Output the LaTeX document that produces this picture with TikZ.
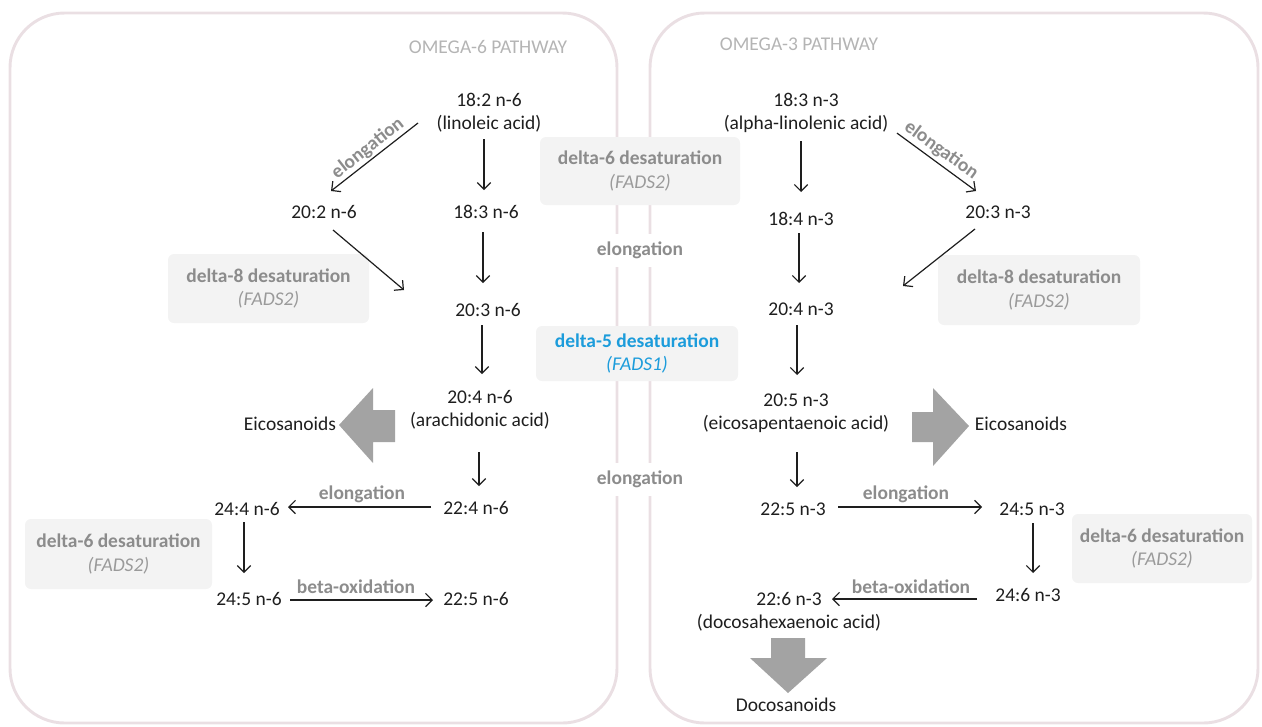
\documentclass[tikz,border=0pt]{standalone}
\usepackage{fontspec}
\setmainfont{Carlito}
\usetikzlibrary{arrows.meta,calc}
\definecolor{txt}{HTML}{1E1E1E}
\definecolor{labc}{HTML}{8C8C8C}
\definecolor{fads}{HTML}{9A9A9A}
\definecolor{boxfill}{HTML}{F3F3F3}
\definecolor{panelc}{HTML}{EADFE3}
\definecolor{bluefive}{HTML}{1C9CDB}
\definecolor{bigarrow}{HTML}{A3A3A3}
\definecolor{titlec}{HTML}{B4B4B4}
\begin{document}
\begin{tikzpicture}[x=0.75pt,y=-0.75pt,
  every node/.style={font=\fontsize{14.6}{17.6}\selectfont, text=txt, inner sep=0pt, align=center},
  lab/.style={text=labc, font=\fontsize{14.6}{17.6}\selectfont\bfseries},
  enz/.style={fill=boxfill, rounded corners=4.5pt, text=labc, font=\fontsize{14.6}{17.6}\selectfont\bfseries},
  conn/.style={draw=txt, line width=0.9pt, -{Straight Barb[length=5pt,width=10pt]}},
  panelbox/.style={draw=panelc, line width=2.2pt, rounded corners=41pt},
  big/.style={fill=bigarrow, draw=none},
  ttl/.style={text=titlec}]
\useasboundingbox (0,0) rectangle (1262,726);

% panels
\draw[panelbox] (10,13) rectangle (617,723);
\draw[panelbox] (650,13) rectangle (1258,723);

% enzyme boxes
\node[enz, minimum width=150.75pt, minimum height=51.75pt] (d8L) at (268.5,288.5) {delta-8 desaturation\\{\normalfont\itshape\color{fads}(FADS2)}};
\node[enz, minimum width=140.25pt, minimum height=52.5pt] (d6L) at (118.5,554) {delta-6 desaturation\\{\normalfont\itshape\color{fads}(FADS2)}};
\node[enz, minimum width=150pt, minimum height=51pt] (d6M) at (640,171) {delta-6 desaturation\\{\normalfont\itshape\color{fads}(FADS2)}};
\node[enz, text=bluefive, minimum width=151.5pt, minimum height=41.25pt] (d5M) at (637,353.5) {delta-5 desaturation\\{\normalfont\itshape(FADS1)}};
\node[enz, minimum width=151.5pt, minimum height=52.5pt] (d8R) at (1039,290) {delta-8 desaturation\\{\normalfont\itshape\color{fads}(FADS2)}};
\node[enz, minimum width=135pt, minimum height=51.75pt] (d6R) at (1162,548.5) {delta-6 desaturation\\{\normalfont\itshape\color{fads}(FADS2)}};
\node[lab, fill=white, inner xsep=2pt, inner ysep=6pt] (eM1) at (640,250) {elongation};
\node[lab, fill=white, inner xsep=2pt, inner ysep=6pt] (eM2) at (640,479) {elongation};

% titles
\node[ttl] (t6) at (488,47) {OMEGA-6 PATHWAY};
\node[ttl] (t3) at (799,44) {OMEGA-3 PATHWAY};

% omega-6 nodes
\node (l1) at (489,112.6) {18:2 n-6\\(linoleic acid)};
\node (l2) at (324,212) {20:2 n-6};
\node (l3) at (486,212) {18:3 n-6};
\node (l4) at (488,310) {20:3 n-6};
\node (l5) at (480,409.6) {20:4 n-6\\(arachidonic acid)};
\node (eL) at (290,424) {Eicosanoids};
\node (l6) at (476,508) {22:4 n-6};
\node (l7) at (247,509) {24:4 n-6};
\node (l8) at (249,599) {24:5 n-6};
\node (l9) at (476,599) {22:5 n-6};

% omega-3 nodes
\node (r1) at (806,113.1) {18:3 n-3\\(alpha-linolenic acid)};
\node (r2) at (801,219) {18:4 n-3};
\node (r3) at (998,212) {20:3 n-3};
\node (r4) at (801,309) {20:4 n-3};
\node (r5) at (796,413) {20:5 n-3\\(eicosapentaenoic acid)};
\node (eR) at (1021,424) {Eicosanoids};
\node (r6) at (793,509) {22:5 n-3};
\node (r7) at (1032,509) {24:5 n-3};
\node (r8) at (1028,595) {24:6 n-3};
\node (r9) at (789,611.6) {22:6 n-3\\(docosahexaenoic acid)};
\node (dR) at (786,705) {Docosanoids};

% big arrows
\fill[big] (339,425) -- (373,388) -- (373,410) -- (395,410) -- (395,442) -- (373,442) -- (373,463) -- cycle;
\fill[big] (969,426) -- (933,388) -- (933,412) -- (912,412) -- (912,442) -- (933,442) -- (933,466) -- cycle;
\fill[big] (788,693) -- (750,658) -- (771,658) -- (771,638) -- (805,638) -- (805,658) -- (827,658) -- cycle;

% omega-6 connectors
\draw[conn] ($(l3)+(-2,-73)$) -- ($(l3)+(-2,-22)$);
\draw[conn] ($(l1)+(-71,10.4)$) -- ($(l2)+(7,-21)$);
\draw[conn] ($(l2)+(9,18)$) -- ($(l4)+(-84,-20)$);
\draw[conn] ($(l3)+(-3,20)$) -- ($(l4)+(-5,-27)$);
\draw[conn] ($(l4)+(-6,15)$) -- ($(l5)+(2,-35.6)$);
\draw[conn] ($(l5)+(-1,42.4)$) -- ($(l6)+(3,-22)$);
\draw[conn] ($(l6)+(-45,-1)$) -- ($(l7)+(41,-2)$);
\draw[conn] ($(l7)+(-3,13)$) -- ($(l8)+(-5,-26)$);
\draw[conn] ($(l8)+(41,1)$) -- ($(l9)+(-43,1)$);

% omega-3 connectors
\draw[conn] ($(r2)+(0,-78)$) -- ($(r2)+(0,-27)$);
\draw[conn] ($(r1)+(91,20)$) -- ($(r3)+(-22,-21)$);
\draw[conn] ($(r3)+(-23,17)$) -- ($(r4)+(102,-23)$);
\draw[conn] ($(r2)+(-2,14)$) -- ($(r4)+(-2,-26)$);
\draw[conn] ($(r4)+(-4,16)$) -- ($(r5)+(1,-38)$);
\draw[conn] ($(r5)+(1,39)$) -- ($(r6)+(4,-22)$);
\draw[conn] ($(r6)+(45,-2)$) -- ($(r7)+(-50,-2)$);
\draw[conn] ($(r7)+(1,14)$) -- ($(r8)+(5,-22)$);
\draw[conn] ($(r8)+(-51,4)$) -- ($(r9)+(43,-12.6)$);

% connector labels
\node[lab, rotate=38] (eA2) at (367.8,148.4) {elongation};
\node[lab, rotate=-36] (eB2) at (941.2,150.4) {elongation};
\node[lab] (eA7) at (362,494) {elongation};
\node[lab] (bA9) at (356,587) {beta-oxidation};
\node[lab] (eB7) at (906,494) {elongation};
\node[lab] (bB9) at (911,587) {beta-oxidation};
\end{tikzpicture}
\end{document}
